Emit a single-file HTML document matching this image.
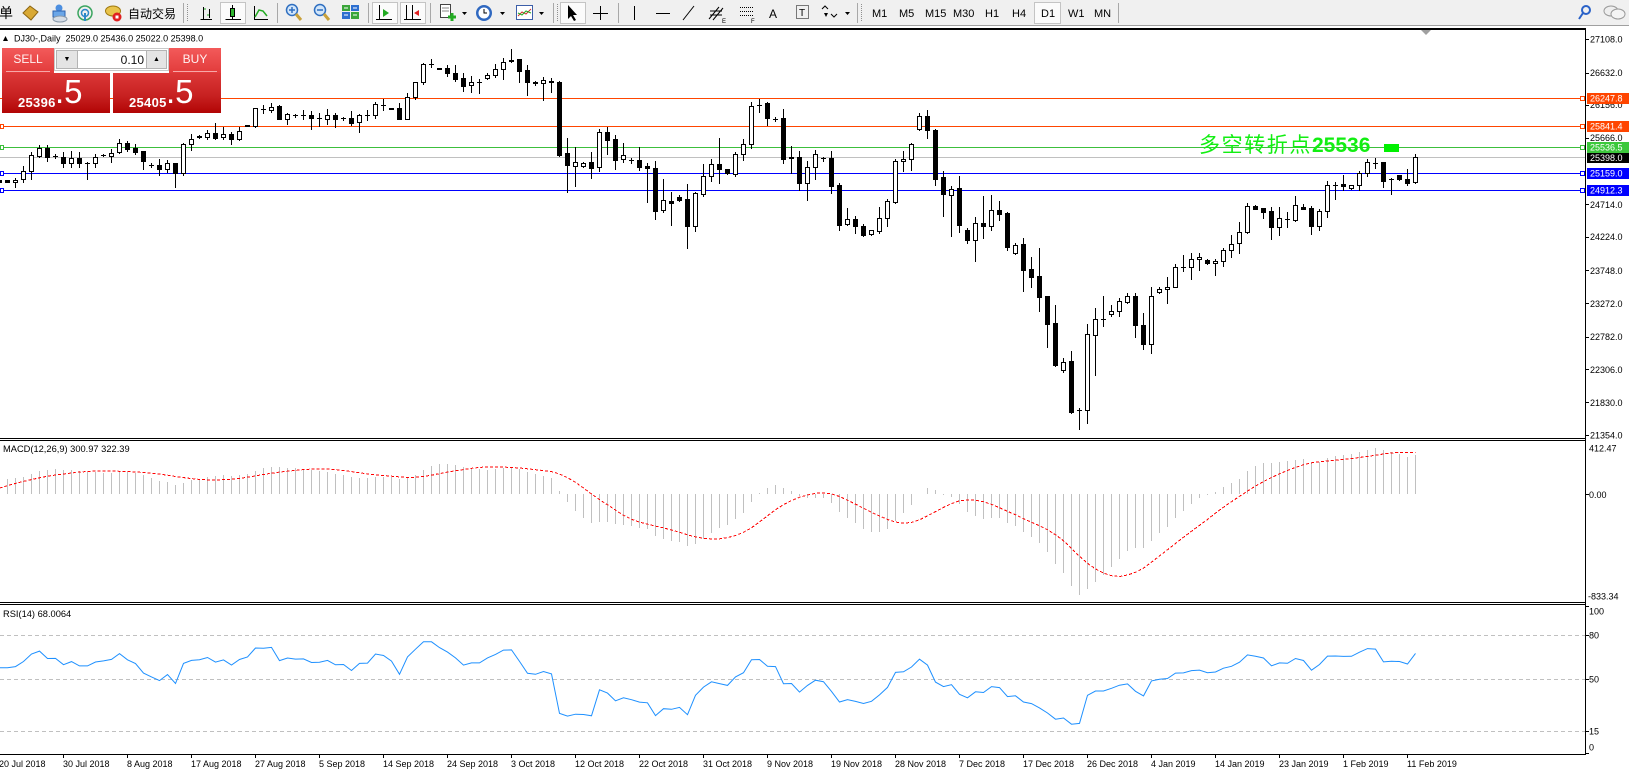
<!DOCTYPE html>
<html><head><meta charset="utf-8">
<style>
html,body{margin:0;padding:0;background:#fff;}
body{width:1629px;height:773px;overflow:hidden;position:relative;font-family:"Liberation Sans","Noto Sans CJK SC",sans-serif;}
#tp{position:absolute;left:2px;top:48px;width:219px;height:65px;}
#tp div{position:absolute;box-sizing:border-box;}
.sb{background:linear-gradient(#f35a5a,#e23b3b);color:#fff1f1;font-size:12px;text-align:center;line-height:23px;height:25px;top:0;width:52px;}
.sb i{position:absolute;left:4px;right:4px;bottom:1px;height:1px;background:#f7a8a8;}
.big{top:25px;height:40px;width:108px;background:linear-gradient(#dc3838,#c82222 55%,#b20505);color:#fff;}
.big b{position:absolute;left:16px;top:22px;font-size:13px;font-weight:bold;letter-spacing:0.3px;}
.big span{position:absolute;left:53px;top:-1px;font-size:33px;line-height:40px;}
</style></head>
<body>
<svg id="sv" width="1629" height="773" viewBox="0 0 1629 773" xmlns="http://www.w3.org/2000/svg" style="position:absolute;left:0;top:0" font-family="Liberation Sans, Noto Sans CJK SC, sans-serif">
<defs>
<clipPath id="cm"><rect x="0" y="30" width="1585" height="408"/></clipPath>
<clipPath id="cmacd"><rect x="0" y="441" width="1585" height="161"/></clipPath>
<clipPath id="crsi"><rect x="0" y="605" width="1585" height="149"/></clipPath>
</defs>
<rect x="0" y="0" width="1629" height="773" fill="#fff"/>
<!-- toolbar -->
<rect x="0" y="0" width="1629" height="25" fill="#f0f0f0"/>
<rect x="0" y="25" width="1629" height="1" fill="#a0a0a0"/>
<text x="-1" y="18" font-size="14" font-family="Noto Sans CJK SC, sans-serif">单</text>
<polygon points="23,13 30,6 38,12 31,20" fill="#d9a934" stroke="#8c6512"/>
<circle cx="59" cy="8" r="3.5" fill="#4d8fe0"/><rect x="53" y="11" width="12" height="6" fill="#6aa6e8" stroke="#2d62b0"/><ellipse cx="60" cy="19" rx="7" ry="3" fill="#d6dde6" stroke="#8899aa"/>
<circle cx="85" cy="13" r="7" fill="none" stroke="#3aa55f" stroke-width="1.5"/><circle cx="85" cy="13" r="3.5" fill="none" stroke="#2c88c8" stroke-width="1.5"/><rect x="84" y="13" width="2" height="8" fill="#2c88c8"/>
<ellipse cx="113" cy="11" rx="7.5" ry="5" fill="#e9c44b" stroke="#a07a10"/><circle cx="117" cy="17" r="4.5" fill="#e02020"/><rect x="115.5" y="15.5" width="3" height="3" fill="#fff"/>
<text x="128" y="18" font-size="12" font-family="Noto Sans CJK SC, sans-serif">自动交易</text>
<g stroke="#a8a8a8"><line x1="183.5" y1="3" x2="183.5" y2="23"/><line x1="277.5" y1="3" x2="277.5" y2="23"/><line x1="368.5" y1="3" x2="368.5" y2="23"/><line x1="430.5" y1="3" x2="430.5" y2="23"/><line x1="553.5" y1="3" x2="553.5" y2="23"/><line x1="618.5" y1="3" x2="618.5" y2="23"/><line x1="857.5" y1="3" x2="857.5" y2="23"/><line x1="1118.5" y1="3" x2="1118.5" y2="23"/></g>
<g stroke="#909090" stroke-dasharray="1,1"><line x1="187.5" y1="4" x2="187.5" y2="22"/><line x1="557.5" y1="4" x2="557.5" y2="22"/><line x1="861.5" y1="4" x2="861.5" y2="22"/></g>
<g stroke="#000" fill="none"><path d="M200.5 19.5H212M203.5 7V20M209.5 9V18"/></g><path d="M204 9h2M207 15h2" stroke="#2a2"/>
<rect x="220.5" y="2.5" width="25" height="21" fill="#fbfbfb" stroke="#c4c4c4"/><path d="M225.5 19.5H241M232.5 5V20" stroke="#000"/><rect x="230.5" y="8.5" width="4" height="8" fill="#2fb52f" stroke="#000"/>
<path d="M254.5 6V19.5H268" stroke="#000" fill="none"/><polyline points="255,17 259,10 263,11 267,16" fill="none" stroke="#2a2" stroke-width="1.5"/>
<circle cx="292" cy="10" r="5.5" fill="#d2e6fa" stroke="#2f6fc0" stroke-width="1.5"/><path d="M289 10h6M292 7v6" stroke="#2f6fc0" stroke-width="1.5"/><line x1="296" y1="14" x2="301" y2="20" stroke="#c9a13a" stroke-width="3"/>
<circle cx="320" cy="10" r="5.5" fill="#d2e6fa" stroke="#2f6fc0" stroke-width="1.5"/><path d="M317 10h6" stroke="#2f6fc0" stroke-width="1.5"/><line x1="324" y1="14" x2="329" y2="20" stroke="#c9a13a" stroke-width="3"/>
<rect x="342" y="5" width="8" height="6" fill="#3aa53a"/><rect x="351" y="5" width="8" height="6" fill="#2d6fd0"/><rect x="342" y="12" width="8" height="7" fill="#2d6fd0"/><rect x="351" y="12" width="8" height="7" fill="#3aa53a"/><path d="M344 8h4M353 8h4M344 15h4M353 15h4" stroke="#fff"/>
<rect x="372.5" y="2.5" width="25" height="21" fill="#fbfbfb" stroke="#c4c4c4"/><path d="M379.5 5V20M376 19.5H392" stroke="#000"/><polygon points="383,9 389,13 383,17" fill="#2a2"/>
<rect x="400.5" y="2.5" width="25" height="21" fill="#fbfbfb" stroke="#c4c4c4"/><path d="M406.5 5V20M412.5 5V20M404 19.5H421" stroke="#000"/><polygon points="414,13 419,10 419,16" fill="#e02020"/>
<rect x="440.5" y="4.5" width="10" height="13" fill="#fff" stroke="#444"/><path d="M442 8h7M442 11h7" stroke="#888"/><path d="M448 17h8M452 13v8" stroke="#22aa22" stroke-width="3"/>
<polygon points="462,12 467,12 464.5,15" fill="#000"/>
<circle cx="484" cy="13" r="8" fill="#2f68c0"/><circle cx="484" cy="13" r="5.5" fill="#fff"/><path d="M484 9v4h3" stroke="#000" fill="none"/>
<polygon points="500,12 505,12 502.5,15" fill="#000"/>
<rect x="516.5" y="5.5" width="16" height="14" fill="#fff" stroke="#3c5ea8"/><polyline points="518,16 522,12 526,14 531,9" fill="none" stroke="#d03030"/><polyline points="518,13 522,15 526,11 531,13" fill="none" stroke="#2a2"/>
<polygon points="539,12 544,12 541.5,15" fill="#000"/>
<rect x="560.5" y="2.5" width="25" height="21" fill="#fbfbfb" stroke="#c4c4c4"/><polygon points="568,5 568,19 571,16 574,21 576,20 573,15 577,15" fill="#000"/>
<path d="M600.5 6V20M593 13.5H608" stroke="#000"/>
<path d="M634.5 6V20" stroke="#000"/>
<path d="M656 13.5H670" stroke="#000"/>
<path d="M683 20L694 6" stroke="#000"/>
<path d="M709 19L719 7M713 20L723 8M710 11h12M710 15h12" stroke="#000" fill="none"/><text x="722" y="23" font-size="6">E</text>
<path d="M740 7.5H754M740 11.5H754M740 15.5H754" stroke="#000" stroke-dasharray="1,1"/><text x="751" y="23" font-size="6">F</text>
<text x="769" y="18" font-size="12">A</text>
<rect x="796.5" y="5.5" width="12" height="13" fill="none" stroke="#000" stroke-dasharray="1,1"/><text x="799" y="16" font-size="10">T</text>
<path d="M822 9l3-3 3 3M831 14l3 3 3-3" stroke="#000" fill="none"/><polygon points="824,13 828,13 826,17" fill="#000"/>
<polygon points="845,12 850,12 847.5,15" fill="#000"/>
<rect x="1034.5" y="2.5" width="26" height="21" fill="#fbfbfb" stroke="#c4c4c4"/>
<g font-size="11" fill="#000"><text x="872" y="17">M1</text><text x="899" y="17">M5</text><text x="925" y="17">M15</text><text x="953" y="17">M30</text><text x="985" y="17">H1</text><text x="1012" y="17">H4</text><text x="1041" y="17">D1</text><text x="1068" y="17">W1</text><text x="1094" y="17">MN</text></g>
<circle cx="1586" cy="10" r="4" fill="none" stroke="#2a62c8" stroke-width="2"/><line x1="1583" y1="13" x2="1579" y2="19" stroke="#2a62c8" stroke-width="2"/>
<ellipse cx="1611" cy="11" rx="7" ry="5" fill="#eee" stroke="#999"/><ellipse cx="1618" cy="14" rx="7" ry="5" fill="#f4f4f4" stroke="#999"/>
<!-- chart frame -->
<rect x="0" y="28" width="1586" height="2" fill="#000"/>
<rect x="1585" y="28" width="1" height="727" fill="#000"/>
<rect x="0" y="438" width="1585" height="1" fill="#000"/>
<rect x="0" y="440" width="1585" height="1" fill="#000"/>
<rect x="0" y="602" width="1585" height="1" fill="#000"/>
<rect x="0" y="604" width="1585" height="1" fill="#000"/>
<rect x="0" y="754" width="1586" height="1" fill="#000"/>
<polygon points="1421,30 1431,30 1426,35" fill="#a0a0a0"/>
<!-- horizontal lines -->
<g shape-rendering="crispEdges">
<path d="M0 98.5H1581" stroke="#ff4500"/>
<path d="M0 126.5H1581" stroke="#ff4500"/>
<path d="M0 147.5H1581" stroke="#3cbf3c"/>
<path d="M0 157.5H1585" stroke="#c0c0c0"/>
<path d="M0 173.5H1581" stroke="#0000ff"/>
<path d="M0 190.5H1581" stroke="#0000ff"/>
<rect x="0.5" y="124.5" width="3" height="4" fill="#fff" stroke="#ff4500"/>
<rect x="0.5" y="145.5" width="3" height="4" fill="#fff" stroke="#3cbf3c"/>
<rect x="0.5" y="171.5" width="3" height="4" fill="#fff" stroke="#0000ff"/>
<rect x="0.5" y="188.5" width="3" height="4" fill="#fff" stroke="#0000ff"/>
<rect x="1580.5" y="96.5" width="4" height="4" fill="#fff" stroke="#ff4500"/>
<rect x="1580.5" y="124.5" width="4" height="4" fill="#fff" stroke="#ff4500"/>
<rect x="1580.5" y="145.5" width="4" height="4" fill="#fff" stroke="#3cbf3c"/>
<rect x="1580.5" y="171.5" width="4" height="4" fill="#fff" stroke="#0000ff"/>
<rect x="1580.5" y="188.5" width="4" height="4" fill="#fff" stroke="#0000ff"/>
<g stroke="#c0c0c0" stroke-dasharray="4,3"><path d="M0 635.5H1585"/><path d="M0 679.5H1585"/><path d="M0 731.5H1585"/></g>
</g>
<g id="cand" clip-path="url(#cm)" shape-rendering="crispEdges"></g>
<g id="mac" clip-path="url(#cmacd)" shape-rendering="crispEdges"></g>
<g id="rs" clip-path="url(#crsi)"></g>
<!-- green annotation -->
<text x="1199" y="152" font-size="21" fill="#12ee12" font-family="Noto Sans CJK SC, sans-serif" letter-spacing="1.6">多空转折点<tspan font-family="Liberation Sans, sans-serif" font-weight="bold" letter-spacing="0">25536</tspan></text>
<rect x="1384" y="144" width="15" height="8" fill="#00f000"/>
<!-- axis ticks -->
<g stroke="#000" shape-rendering="crispEdges"><path d="M1586 39.5h3M1586 73.5h3M1586 105.5h3M1586 138.5h3M1586 204.5h3M1586 237.5h3M1586 270.5h3M1586 303.5h3M1586 337.5h3M1586 369.5h3M1586 402.5h3M1586 435.5h3M1586 494.5h3M1586 606.5h3M1586 635.5h3M1586 679.5h3M1586 731.5h3M1586 753.5h3"/></g>
<g font-size="9" fill="#000">
<text x="1590" y="42.5">27108.0</text><text x="1590" y="76">26632.0</text><text x="1590" y="108">26156.0</text><text x="1590" y="141">25666.0</text>
<text x="1590" y="208">24714.0</text><text x="1590" y="240">24224.0</text><text x="1590" y="274">23748.0</text><text x="1590" y="307">23272.0</text>
<text x="1590" y="340">22782.0</text><text x="1590" y="373">22306.0</text><text x="1590" y="406">21830.0</text><text x="1590" y="438.5">21354.0</text>
<text x="1589" y="451.5">412.47</text><text x="1589" y="498">0.00</text><text x="1588" y="599.5">-833.34</text>
<text x="1589" y="614.5">100</text><text x="1589" y="638.5">80</text><text x="1589" y="682.5">50</text><text x="1589" y="734.5">15</text><text x="1589" y="750.5">0</text>
</g>
<g font-size="9" fill="#fff">
<rect x="1587" y="93" width="42" height="11" fill="#ff4500"/><text x="1590" y="101.5">26247.8</text>
<rect x="1587" y="121" width="42" height="11" fill="#ff4500"/><text x="1590" y="129.5">25841.4</text>
<rect x="1587" y="142" width="42" height="11" fill="#3cc83c"/><text x="1590" y="150.5">25536.5</text>
<rect x="1587" y="153" width="42" height="10" fill="#000"/><text x="1590" y="161">25398.0</text>
<rect x="1587" y="168" width="42" height="11" fill="#0000ff"/><text x="1590" y="176.5">25159.0</text>
<rect x="1587" y="185" width="42" height="11" fill="#0000ff"/><text x="1590" y="193.5">24912.3</text>
</g>
<!-- pane labels -->
<polygon points="3,41 5.5,36 8,41" fill="#000"/>
<text x="14" y="41.5" font-size="9" fill="#000" xml:space="preserve">DJ30-,Daily  25029.0 25436.0 25022.0 25398.0</text>
<text x="3" y="452" font-size="9.3" fill="#000">MACD(12,26,9) 300.97 322.39</text>
<text x="3" y="617" font-size="9.3" fill="#000">RSI(14) 68.0064</text>
<!-- dates -->
<g id="dt" font-size="9" fill="#000">
<text x="-1" y="767">20 Jul 2018</text><text x="63" y="767">30 Jul 2018</text><text x="127" y="767">8 Aug 2018</text><text x="191" y="767">17 Aug 2018</text>
<text x="255" y="767">27 Aug 2018</text><text x="319" y="767">5 Sep 2018</text><text x="383" y="767">14 Sep 2018</text><text x="447" y="767">24 Sep 2018</text>
<text x="511" y="767">3 Oct 2018</text><text x="575" y="767">12 Oct 2018</text><text x="639" y="767">22 Oct 2018</text><text x="703" y="767">31 Oct 2018</text>
<text x="767" y="767">9 Nov 2018</text><text x="831" y="767">19 Nov 2018</text><text x="895" y="767">28 Nov 2018</text><text x="959" y="767">7 Dec 2018</text>
<text x="1023" y="767">17 Dec 2018</text><text x="1087" y="767">26 Dec 2018</text><text x="1151" y="767">4 Jan 2019</text><text x="1215" y="767">14 Jan 2019</text>
<text x="1279" y="767">23 Jan 2019</text><text x="1343" y="767">1 Feb 2019</text><text x="1407" y="767">11 Feb 2019</text>
</g>
<g id="tk" stroke="#000" shape-rendering="crispEdges"></g>
</svg>

<div id="tp">
 <div class="sb" style="left:0;">SELL<i></i></div>
 <div style="left:52px;top:0;width:115px;height:23px;background:#fff;border:1px solid #c8c8c8;"></div>
 <div style="left:54px;top:2px;width:22px;height:19px;background:#e4e4e4;border:1px solid #b4b4b4;font-size:7px;text-align:center;line-height:18px;">▼</div>
 <div style="left:76px;top:2px;width:68px;height:19px;background:#fff;border-top:1px solid #b4b4b4;border-bottom:1px solid #b4b4b4;font-size:12px;text-align:right;padding-right:2px;line-height:18px;color:#111;">0.10</div>
 <div style="left:144px;top:2px;width:21px;height:19px;background:#e4e4e4;border:1px solid #b4b4b4;font-size:7px;text-align:center;line-height:18px;">▲</div>
 <div class="sb" style="left:167px;">BUY<i></i></div>
 <div class="big" style="left:0;"><b>25396</b><span>.5</span></div>
 <div class="big" style="left:111px;"><b>25405</b><span>.5</span></div>
</div>

<script>
(function(){
var NS='http://www.w3.org/2000/svg';
function mk(tag,a,p){var e=document.createElementNS(NS,tag);for(var k in a)e.setAttribute(k,a[k]);p.appendChild(e);return e;}
var D=[
['b',450,455,450,455],['b',450,455,449,456],['w',449,455,445,470],['w',422,448,408,457],['w',376,422,366,446],['w',355,377,345,382],
['b',354,380,345,392],['x',379,379,373,385],['b',382,400,366,410],['w',384,400,364,410],['b',384,398,366,412],['x',398,398,396,446],
['w',380,400,372,410],['x',375,375,372,378],['w',368,378,357,395],['w',340,367,327,368],['b',340,356,333,362],['b',353,366,342,372],
['b',364,394,364,418],['x',406,406,400,412],['b',406,418,388,434],['w',398,418,390,425],['b',400,428,398,472],['w',343,430,340,434],
['w',326,343,312,360],['b',319,322,316,324],['w',310,322,300,326],['b',310,324,280,328],['w',313,322,290,328],['b',313,328,306,341],
['w',302,328,292,330],['b',286,289,286,289],['w',235,287,233,290],['x',236,236,226,250],['w',230,240,220,246],['b',228,266,226,268],
['w',253,266,250,281],['x',256,256,252,262],['x',255,255,241,267],['b',256,264,243,296],['x',263,263,250,288],['w',256,266,238,282],
['b',255,266,250,292],['x',265,265,260,270],['b',264,278,243,284],['w',256,276,252,307],['x',255,255,240,270],['w',222,256,215,263],
['x',225,225,208,240],['b',233,236,233,236],['b',234,266,220,266],['w',200,266,190,266],['w',157,200,155,208],['w',103,157,100,163],
['x',103,103,88,112],['b',115,118,115,118],['b',115,130,106,138],['b',128,146,106,153],['b',145,167,128,182],['w',157,165,138,185],
['x',157,157,148,188],['w',135,145,128,148],['w',118,135,103,140],['w',95,118,85,146],['b',91,94,58,97],['b',88,122,86,157],
['b',120,157,104,194],['b',155,160,153,165],['w',150,160,142,210],['b',154,157,143,187],['b',157,375,152,378],['b',370,404,325,485],
['w',397,407,352,467],['w',400,408,396,410],['b',397,413,367,443],['w',307,412,297,422],['b',307,330,290,372],['b',327,390,316,418],
['w',376,388,340,396],['x',391,391,385,398],['b',391,410,350,420],['b',408,415,400,515],['b',415,542,394,566],['w',511,541,447,546],
['b',513,518,487,585],['b',500,510,496,512],['b',508,587,463,653],['w',490,587,485,602],['w',439,491,402,499],['w',403,438,387,452],
['b',403,416,325,458],['b',418,429,418,433],['w',373,431,366,437],['w',343,373,328,390],['w',227,341,217,355],['x',225,225,206,245],
['b',220,265,215,285],['x',267,267,262,274],['b',265,386,238,398],['b',382,385,349,430],['b',382,458,364,480],['w',412,458,394,510],
['w',373,412,360,446],['x',385,385,380,394],['b',384,467,364,488],['b',465,584,460,599],['w',568,583,534,585],['b',568,589,558,610],
['b',589,614,583,617],['w',601,613,599,614],['w',563,602,532,608],['w',514,563,508,588],['w',394,516,387,520],['w',388,394,364,422],
['w',343,388,338,420],['w',259,298,250,300],['b',258,300,240,323],['b',300,446,296,465],['b',441,493,423,557],['w',476,496,468,617],
['b',475,584,437,607],['b',601,629,594,638],['w',580,629,562,692],['b',579,589,498,623],['w',541,589,494,600],['b',541,551,514,571],
['b',549,650,546,661],['w',644,670,638,672],['b',643,719,624,782],['b',717,740,682,770],['b',739,800,654,843],['b',798,881,797,950],
['b',880,1005,826,1007],['w',997,1019,985,1025],['b',994,1145,963,1148],['x',1140,1140,1133,1196],['w',913,1141,883,1178],['w',868,916,834,1035],
['x',868,868,798,887],['w',842,851,826,858],['w',812,842,803,858],['w',799,815,790,818],['b',799,884,790,920],['b',884,943,850,957],
['w',797,943,772,968],['w',778,786,772,790],['w',770,778,740,818],['w',712,770,703,770],['x',710,710,676,722],['w',686,710,670,746],
['w',680,686,670,720],['b',690,700,688,702],['w',694,700,686,734],['w',660,694,655,707],['w',643,661,616,682],['w',606,640,577,668],
['w',529,607,519,608],['b',528,536,526,538],['b',535,546,533,563],['b',543,590,530,626],['w',565,590,530,614],['x',567,567,545,590],
['w',526,570,498,573],['b',531,536,522,538],['b',534,587,528,612],['w',543,587,537,599],['w',466,544,452,560],['x',465,465,455,507],
['b',463,467,436,480],['w',466,475,465,476],['w',430,466,423,480],['w',396,430,386,437],['x',398,398,385,413],['b',396,452,396,470],
['x',447,447,445,493],['b',435,448,435,450],['b',447,458,416,466],['w',382,457,372,460]
];
function Y(v){return Math.round(30+v/3);}
var wick='',wht='',blk='';
D.forEach(function(d,i){
  var c=7+8*(i-1), t=Y(d[1]), b=Y(d[2]), hi=Y(d[3]), lo=Y(d[4]);
  if(b<t)b=t;
  wick+='M'+(c+.5)+' '+hi+'V'+(lo+1);
  if(d[0]==='w'){var h=Math.max(b-t,2);wht+='M'+(c-1.5)+' '+(t+.5)+'h4v'+h+'h-4z';}
  else if(d[0]==='b'){var h2=Math.max(b-t,1)+1;blk+='M'+(c-2)+' '+t+'h5v'+h2+'h-5z';}
  else{blk+='M'+(c-2)+' '+t+'h5v1h-5z';}
});
var g=document.getElementById('cand');
mk('path',{d:wick,stroke:'#000','stroke-width':1,fill:'none'},g);
mk('path',{d:wht,stroke:'#000','stroke-width':1,fill:'#fff'},g);
mk('path',{d:blk,fill:'#000'},g);
// indicators
var W=[23644,24033,24264,24505,23933,23979,24408,24190,24483,24360,24573,24786,24748,24665,24463,24448,24024,24084,24322,24311,24163,
24100,23925,23930,24263,24357,24360,24543,24739,24831,24900,24707,24769,24714,24715,25013,24834,24887,24811,24753,24361,24668,24416,
24635,24814,24799,25146,25241,25317,25322,25320,25201,25175,25090,24987,24700,24657,24461,24580,24252,24283,24117,24216,24271,
24307,24174,24356,24456,24776,24919,24700,24924,25019,25064,25120,25199,25064];
function P(y){return 27108-(y-39.3)*14.54;}
var cl=W.slice(), off=W.length;
D.forEach(function(d){var v=d[0]==='b'?d[2]:d[1];cl.push(P(30+v/3));});
var n=cl.length,e12=cl[0],e26=cl[0],m=[],s=[],r=[];
for(var i=0;i<n;i++){e12+=(cl[i]-e12)*2/13;e26+=(cl[i]-e26)*2/27;m.push(e12-e26);
  if(i>=8){var a=0;for(var j=i-8;j<=i;j++)a+=m[j];s.push(a/9);}else s.push(m[i]);}
var ag=0,al=0;
for(var i2=1;i2<n;i2++){var ch=cl[i2]-cl[i2-1],gg=ch>0?ch:0,ll=ch<0?-ch:0;
  if(i2<=14){ag+=gg/14;al+=ll/14;}else{ag=(ag*13+gg)/14;al=(al*13+ll)/14;}
  r[i2]=al===0?100:100-100/(1+ag/al);}
function YM(v){return 441+(412.47-v)*0.12923;}
function YR(v){return 606+(100-v)*1.4667;}
var hp='',sp=[],rp=[];
for(var k=off;k<n;k++){var c=7+8*(k-off-1);
  hp+='M'+(c+.5)+' 494V'+Math.round(YM(m[k]));
  sp.push((c+.5)+','+YM(s[k]).toFixed(1));
  rp.push((c+.5)+','+YR(r[k]).toFixed(1));}
var gm=document.getElementById('mac');
mk('path',{d:hp,stroke:'#c0c0c0','stroke-width':1,fill:'none'},gm);
mk('polyline',{points:sp.join(' '),stroke:'#ff0000','stroke-width':1,fill:'none','stroke-dasharray':'3,2'},gm);
mk('polyline',{points:rp.join(' '),stroke:'#1e90ff','stroke-width':1,fill:'none'},document.getElementById('rs'));
var tk='';for(var q=0;q<23;q++){tk+='M'+(64*q-1+.5)+' 755V758';}
mk('path',{d:tk},document.getElementById('tk'));
})();
</script>
</body></html>
